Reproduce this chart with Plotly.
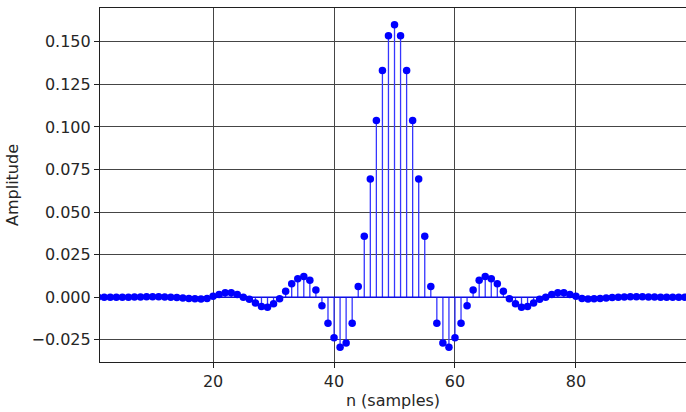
import plotly.graph_objects as go

# sample index
n = list(range(0, 101))

# half of the symmetric impulse response, n = 0..50
h_left = [
    0.0000, 0.0000, 0.0000, 0.0000, 0.0000, 0.0000, 0.0000, 0.0001, 0.0001, 0.0002,
    0.0002, 0.0002, 0.0001, 0.0000, -0.0002, -0.0005, -0.0008, -0.0010, -0.0011, -0.0008,
    0.0005, 0.0016, 0.0026, 0.0026, 0.0016, 0.0000, -0.0012, -0.0035, -0.0055, -0.0059,
    -0.0039, -0.0010, 0.0034, 0.0079, 0.0108, 0.0122, 0.0099, 0.0042, -0.0051, -0.0153,
    -0.0238, -0.0295, -0.0269, -0.0153, 0.0062, 0.0358, 0.0694, 0.1038, 0.1332, 0.1536,
    0.1600,
]
amplitude = h_left + h_left[-2::-1]

x_ticks = [20, 40, 60, 80]
y_ticks = [-0.025, 0.0, 0.025, 0.05, 0.075, 0.1, 0.125, 0.15]

stem_x, stem_y = [], []
for xi, yi in zip(n, amplitude):
    stem_x += [xi, xi, None]
    stem_y += [0, yi, None]

BLUE = "#0000ff"
fig = go.Figure()
fig.add_trace(go.Scatter(x=stem_x, y=stem_y, mode="lines",
                         line=dict(color="#3535ff", width=1.3),
                         hoverinfo="skip", showlegend=False))
fig.add_trace(go.Scatter(x=[n[0], n[-1]], y=[0, 0], mode="lines",
                         line=dict(color=BLUE, width=1.3),
                         hoverinfo="skip", showlegend=False))
fig.add_trace(go.Scatter(x=n, y=amplitude, mode="markers",
                         marker=dict(color=BLUE, size=7.5),
                         showlegend=False))

font = dict(family="DejaVu Sans", size=16, color="#262626")
fig.update_layout(
    width=686, height=412,
    margin=dict(l=100, r=0, t=8, b=50),
    paper_bgcolor="white", plot_bgcolor="white",
    font=font,
    showlegend=False,
)
fig.update_xaxes(
    range=[1.3, 98.2], tickvals=x_ticks, ticktext=[str(t) for t in x_ticks],
    showgrid=True, gridcolor="#454545", gridwidth=1.4,
    zeroline=False, showline=True, linecolor="#202020", linewidth=1.2, mirror=True,
    ticks="outside", ticklen=5, tickcolor="#202020",
    title=dict(text="n (samples)", standoff=4, font=font),
)
fig.update_yaxes(
    range=[-0.0381, 0.1699], tickvals=y_ticks, tickformat=".3f",
    showgrid=True, gridcolor="#454545", gridwidth=1.4,
    zeroline=False, showline=True, linecolor="#202020", linewidth=1.2, mirror=True,
    ticks="outside", ticklen=5, tickcolor="#202020",
    title=dict(text="Amplitude", standoff=8, font=font),
)

fig.write_html("out.html", config={"displayModeBar": False},
               post_script="document.body.style.margin='0';document.body.style.overflow='hidden';")
